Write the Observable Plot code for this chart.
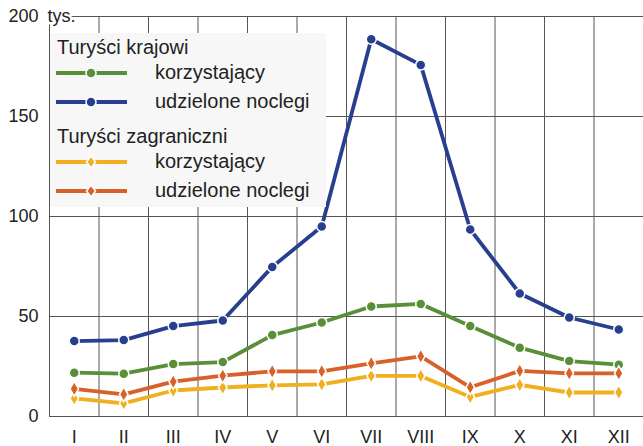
<!DOCTYPE html>
<html>
<head>
<meta charset="utf-8">
<script src="https://cdn.jsdelivr.net/npm/d3@7"></script>
<script src="https://cdn.jsdelivr.net/npm/@observablehq/plot@0.6"></script>
<style>
  html, body { margin: 0; padding: 0; background: #fff; }
  #wrap { position: relative; width: 643px; height: 446px; font-family: "Liberation Sans", Arial, sans-serif; }
  #legend { position: absolute; left: 50px; top: 33px; width: 276px; height: 174px; background: #f7f7f7; color: #222; font-size: 20px; }
  #legend .hdr { position: absolute; left: 7px; line-height: 20px; }
  #legend .row { position: absolute; left: 6px; height: 20px; }
  #legend .row svg { position: absolute; left: 0; top: 0; }
  #legend .row span { position: absolute; left: 99px; top: -2px; white-space: nowrap; line-height: 22px; }
</style>
</head>
<body>
<div id="wrap"></div>
<script>
const months = ["I","II","III","IV","V","VI","VII","VIII","IX","X","XI","XII"];
const krajKorzystajacy = [21.9, 21.4, 26.2, 27.2, 40.7, 47.0, 55.0, 56.3, 45.3, 34.4, 27.7, 25.9];
const krajNoclegi     = [37.7, 38.2, 45.2, 48.0, 74.8, 95.0, 188.6, 175.8, 93.5, 61.5, 49.5, 43.5];
const zagrKorzystajacy = [9.1, 6.6, 13.0, 14.5, 15.6, 16.1, 20.3, 20.3, 9.8, 15.8, 12.0, 12.0];
const zagrNoclegi      = [13.8, 11.1, 17.4, 20.4, 22.6, 22.6, 26.6, 30.1, 14.6, 22.8, 21.6, 21.6];
const yTicks = [0, 50, 100, 150, 200];
const unitLabel = "tys.";

const series = [
  {key: "kk", name: "korzystający", group: "Turyści krajowi", values: krajKorzystajacy, color: "#5a8f3a", symbol: "circle", r: 5},
  {key: "kn", name: "udzielone noclegi", group: "Turyści krajowi", values: krajNoclegi, color: "#283f8f", symbol: "circle", r: 5},
  {key: "zk", name: "korzystający", group: "Turyści zagraniczni", values: zagrKorzystajacy, color: "#f0af1e", symbol: "diamond", r: 4.5},
  {key: "zn", name: "udzielone noclegi", group: "Turyści zagraniczni", values: zagrNoclegi, color: "#d8612a", symbol: "diamond", r: 4.5}
];

const rows = series.flatMap(s => s.values.map((v, i) => ({key: s.key, idx: i, x: i + 0.5, y: v})));
const gridX = d3.range(0, months.length + 1);

const grid = "#555";
const marks = [
  Plot.ruleY(yTicks, {stroke: grid, strokeWidth: 1}),
  Plot.ruleX(gridX.slice(0, -1), {y1: 0, y2: 200, stroke: grid, strokeWidth: 1})
];
for (const s of series) {
  const d = rows.filter(r => r.key === s.key);
  marks.push(Plot.line(d, {x: "x", y: "y", stroke: s.color, strokeWidth: 3.8, strokeLinejoin: "round"}));
  marks.push(Plot.dot(d, {x: "x", y: "y", fill: s.color, stroke: "white", strokeWidth: 1.5, symbol: s.symbol, r: s.r}));
}
marks.push(Plot.text([unitLabel], {x: () => 0, y: () => 200, text: d => d, textAnchor: "start", dx: -2, fontSize: 18, fill: "#222", stroke: "white", strokeWidth: 5, paintOrder: "stroke"}));
marks.push(Plot.axisY({ticks: yTicks, tickSize: 0, tickPadding: 11, fontSize: 18, color: "#222", label: null}));
marks.push(Plot.axisX({ticks: months.map((m, i) => i + 0.5), tickFormat: (d) => months[Math.round(d - 0.5)], tickSize: 0, tickPadding: 14, fontSize: 18, color: "#222", label: null}));

const chart = Plot.plot({
  width: 643,
  height: 446,
  marginLeft: 49,
  marginRight: 0,
  marginTop: 16,
  marginBottom: 30,
  style: {fontFamily: "'Liberation Sans', Arial, sans-serif", background: "white", overflow: "visible"},
  x: {type: "linear", domain: [0, months.length], axis: null},
  y: {domain: [0, 200], axis: null},
  marks
});
const wrap = document.getElementById("wrap");
wrap.appendChild(chart);

// legend overlay
const legend = document.createElement("div");
legend.id = "legend";
const groups = ["Turyści krajowi", "Turyści zagraniczni"];
const hdrTop = [4, 93];
const rowTop = [[30, 59], [119, 148]];
groups.forEach((g, gi) => {
  const h = document.createElement("div");
  h.className = "hdr";
  h.style.top = hdrTop[gi] + "px";
  h.textContent = g;
  legend.appendChild(h);
  series.filter(s => s.group === g).forEach((s, si) => {
    const row = document.createElement("div");
    row.className = "row";
    row.style.top = rowTop[gi][si] + "px";
    const sym = s.symbol === "circle"
      ? `<circle cx="35" cy="10" r="5" fill="${s.color}" stroke="white" stroke-width="1.5"/>`
      : `<path d="M35,4 L39.5,10 L35,16 L30.5,10 Z" fill="${s.color}" stroke="white" stroke-width="1.5"/>`;
    row.innerHTML = `<svg width="80" height="20"><line x1="0" x2="71" y1="10" y2="10" stroke="${s.color}" stroke-width="3.8"/>${sym}</svg><span>${s.name}</span>`;
    legend.appendChild(row);
  });
});
wrap.appendChild(legend);
</script>
</body>
</html>
